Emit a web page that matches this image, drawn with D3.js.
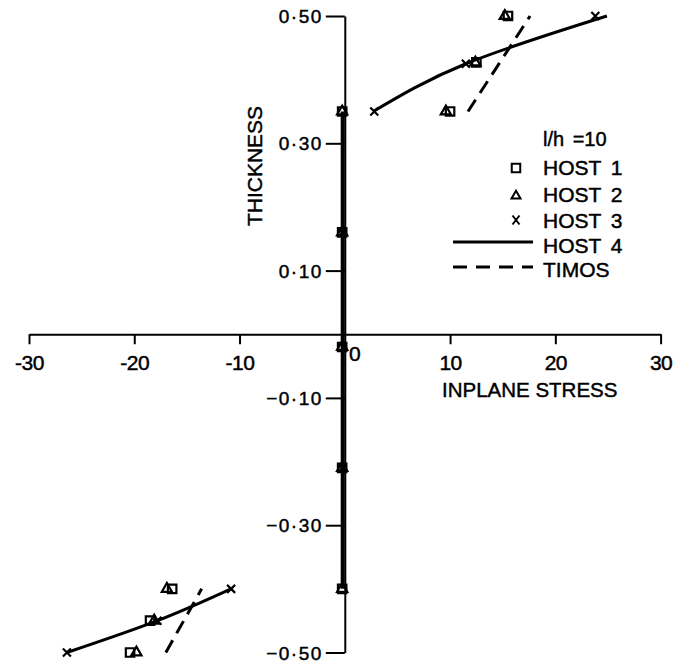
<!DOCTYPE html>
<html>
<head>
<meta charset="utf-8">
<script src="https://cdn.jsdelivr.net/npm/d3@7"></script>
<style>
  body { margin: 0; background: #fff; }
  text { font-family: "Liberation Sans", Arial, sans-serif; fill: #000; stroke: #000; stroke-width: 0.45px; }
</style>
</head>
<body>
<script>
var width = 673;
var height = 667;

// axis ticks
var xTicks = [-30, -20, -10, 10, 20, 30];
var yTicks = [0.5, 0.3, 0.1, -0.1, -0.3, -0.5];

// HOST 1 (squares)
var host1Stress = [-20.4, -18.5, -16.4, -0.25, -0.25, -0.25, -0.25, -0.25, 10.0, 12.5, 15.5];
var host1Z      = [-0.50, -0.45, -0.40, -0.40, -0.21, -0.02, 0.16, 0.35, 0.35, 0.427, 0.50];

// HOST 2 (triangles)
var host2Stress = [-19.8, -18.1, -16.9, -0.25, -0.25, -0.25, -0.25, -0.25, 9.6, 12.4, 15.2];
var host2Z      = [-0.50, -0.45, -0.40, -0.40, -0.21, -0.02, 0.16, 0.35, 0.35, 0.427, 0.50];

// HOST 3 (crosses)
var host3Stress = [-26.4, -17.8, -10.8, -0.25, -0.25, 2.8, 11.5, 23.8];
var host3Z      = [-0.50, -0.45, -0.40, 0.16, -0.21, 0.35, 0.425, 0.50];

// HOST 4 (solid line), three pieces
var host4Lower = [[-26.4, -0.50], [-17.8, -0.45], [-10.8, -0.40]];
var host4Core  = [[-0.2, -0.40], [-0.2, 0.35]];
var host4Upper = [[2.7, 0.35], [11.5, 0.425], [24.9, 0.50]];

// TIMOS (dashed line)
var timosLower = [[-17.0, -0.50], [-13.6, -0.40]];
var timosUpper = [[11.7, 0.35], [17.6, 0.50]];

var svg = d3.select("body").append("svg")
  .attr("width", width)
  .attr("height", height);

var x = d3.scaleLinear().domain([-30, 30]).range([29, 660.6]);
var y = d3.scaleLinear().domain([-0.5, 0.5]).range([652.5, 16]);

// x axis
var xAxis = svg.append("g")
  .attr("transform", "translate(0," + y(0) + ")")
  .call(d3.axisBottom(x).tickValues(xTicks).tickSize(10).tickSizeOuter(0)
    .tickFormat(function(d) { return d < 0 ? "-" + Math.abs(d) : String(d); }));
xAxis.select(".domain").attr("stroke-width", 2);
xAxis.selectAll(".tick line").attr("stroke-width", 2);
xAxis.selectAll(".tick text")
  .attr("y", 28).attr("dy", "0")
  .attr("dominant-baseline", "central")
  .style("font-size", "21px")
  .style("letter-spacing", "-0.5px")
  .style("font-family", "Liberation Sans, Arial, sans-serif");
svg.append("text")
  .attr("x", x(0) + 10).attr("y", y(0) + 19)
  .attr("text-anchor", "middle").attr("dominant-baseline", "central")
  .style("font-size", "21px")
  .text("0");

// y axis
var yAxis = svg.append("g")
  .attr("transform", "translate(" + x(0) + ",0)")
  .call(d3.axisLeft(y).tickValues(yTicks).tickSize(19).tickSizeOuter(0).tickPadding(3)
    .tickFormat(function(d) {
      var s = d3.format(".2f")(Math.abs(d)).replace(".", "\u00b7");
      return d < 0 ? "\u2212" + s : s;
    }));
yAxis.select(".domain").attr("stroke-width", 2);
yAxis.selectAll(".tick line").attr("stroke-width", 2);
yAxis.selectAll(".tick text")
  .attr("dy", "0").attr("dominant-baseline", "central")
  .style("font-size", "19px")
  .style("letter-spacing", "1.5px")
  .style("font-family", "Liberation Sans, Arial, sans-serif");

// axis titles
svg.append("text")
  .attr("transform", "translate(254,166) rotate(-90)")
  .attr("text-anchor", "middle").attr("dominant-baseline", "central")
  .style("font-size", "21px")
  .text("THICKNESS");
svg.append("text")
  .attr("x", 442).attr("y", 389)
  .attr("dominant-baseline", "central")
  .style("font-size", "20.5px")
  .text("INPLANE STRESS");

// lines
var line = d3.line().x(function(d) { return x(d[0]); }).y(function(d) { return y(d[1]); });
var curve = d3.line().curve(d3.curveNatural)
  .x(function(d) { return x(d[0]); }).y(function(d) { return y(d[1]); });

[host4Lower, host4Upper].forEach(function(p) {
  svg.append("path").attr("d", curve(p))
    .attr("fill", "none").attr("stroke", "#000").attr("stroke-width", 3);
});
svg.append("path").attr("d", line(host4Core))
  .attr("fill", "none").attr("stroke", "#000").attr("stroke-width", 4);
[timosLower, timosUpper].forEach(function(p) {
  svg.append("path").attr("d", line(p))
    .attr("fill", "none").attr("stroke", "#000").attr("stroke-width", 3)
    .attr("stroke-dasharray", "14,8");
});

// markers
var squarePath = d3.symbol().type(d3.symbolSquare).size(72)();
var trianglePath = d3.symbol().type(d3.symbolTriangle).size(45)();
var crossPath = "M-4,-4L4,4M4,-4L-4,4";

function drawMarkers(xs, zs, p, sw) {
  svg.append("g").selectAll("path")
    .data(xs)
    .enter().append("path")
    .attr("d", p)
    .attr("transform", function(d, i) { return "translate(" + x(d) + "," + y(zs[i]) + ")"; })
    .attr("fill", "none").attr("stroke", "#000").attr("stroke-width", sw);
}
drawMarkers(host1Stress, host1Z, squarePath, 2.2);
drawMarkers(host2Stress, host2Z, trianglePath, 2.2);
drawMarkers(host3Stress, host3Z, crossPath, 2.2);

// legend
var lx = 543;
svg.append("text").attr("x", lx).attr("y", 139)
  .attr("dominant-baseline", "central").style("font-size", "20px")
  .style("word-spacing", "3px")
  .text("l/h =10");
var legendNames = ["HOST 1", "HOST 2", "HOST 3", "HOST 4", "TIMOS"];
var legendY = [167, 194, 220, 245, 269];
legendNames.forEach(function(n, i) {
  svg.append("text").attr("x", lx).attr("y", legendY[i])
    .attr("dominant-baseline", "central").style("font-size", "21px")
    .style("word-spacing", "4px")
    .text(n);
});
svg.append("path").attr("d", squarePath).attr("transform", "translate(516,168)")
  .attr("fill", "none").attr("stroke", "#000").attr("stroke-width", 2);
svg.append("path").attr("d", d3.symbol().type(d3.symbolTriangle).size(35)())
  .attr("transform", "translate(516,196)")
  .attr("fill", "none").attr("stroke", "#000").attr("stroke-width", 2);
svg.append("path").attr("d", "M-3.5,-4.5L3.5,4.5M3.5,-4.5L-3.5,4.5")
  .attr("transform", "translate(516,220)")
  .attr("fill", "none").attr("stroke", "#000").attr("stroke-width", 2);
svg.append("line").attr("x1", 453).attr("x2", 533).attr("y1", 242).attr("y2", 242)
  .attr("stroke", "#000").attr("stroke-width", 3);
svg.append("line").attr("x1", 453).attr("x2", 533).attr("y1", 267).attr("y2", 267)
  .attr("stroke", "#000").attr("stroke-width", 3).attr("stroke-dasharray", "14,9");
</script>
</body>
</html>
